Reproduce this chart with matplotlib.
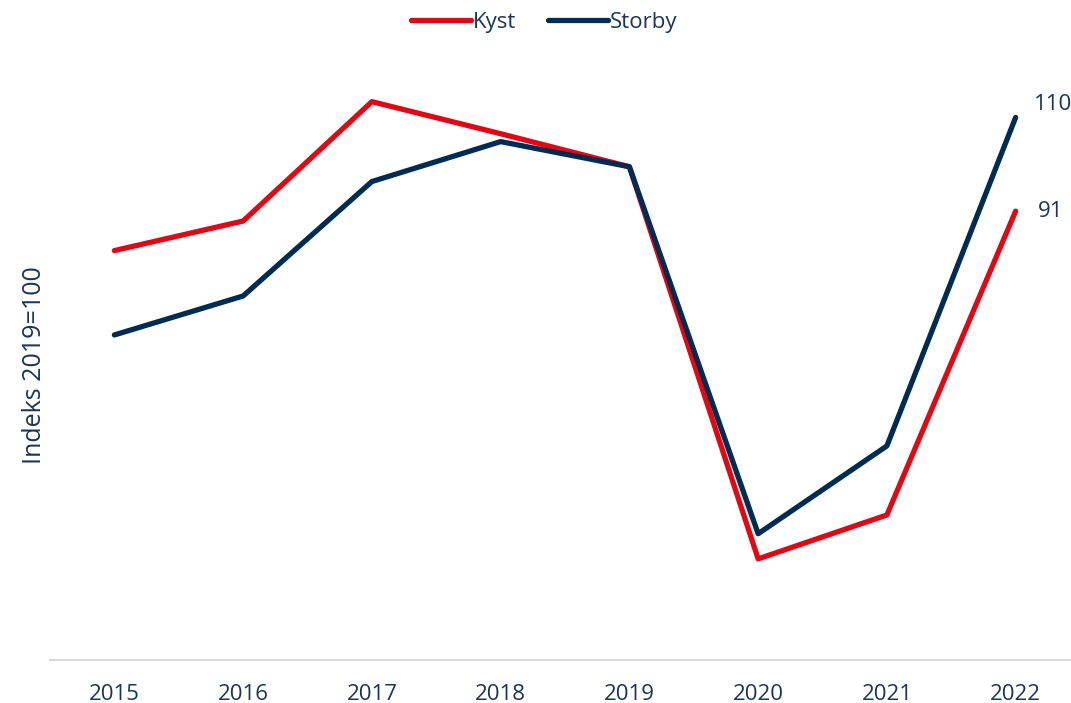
import matplotlib.pyplot as plt

years = ['2015', '2016', '2017', '2018', '2019', '2020', '2021', '2022']
kyst = [83.0, 89.0, 113.2, 106.7, 100.0, 20.5, 29.4, 91.0]
storby = [65.9, 73.8, 97.0, 105.1, 100.0, 25.6, 43.4, 110.0]

red = '#e30613'
navy = '#002b52'
text_col = '#1b3558'

plt.rcParams['font.family'] = ['Open Sans', 'DejaVu Sans']

fig = plt.figure(figsize=(10.71, 7.03), dpi=100)
ax = fig.add_axes([0.0467, 0.0612, 0.9533, 0.877])

x = list(range(len(years)))
ax.plot(x, kyst, color=red, lw=3.8, solid_capstyle='round', label='Kyst')
ax.plot(x, storby, color=navy, lw=3.8, solid_capstyle='round', label='Storby')

# end labels
ax.text(7.145, storby[-1] + 2.6, f'{storby[-1]:.0f}', color=text_col, fontsize=16,
        ha='left', va='center')
ax.text(7.17, kyst[-1], f'{kyst[-1]:.0f}', color=text_col, fontsize=16,
        ha='left', va='center')

ax.set_xlim(-0.5, 7.43)
ax.set_ylim(0, 125)
ax.set_xticks(x)
ax.set_xticklabels(years, fontsize=16, color=text_col)
ax.tick_params(axis='x', length=0, pad=17)
ax.set_yticks([])
ax.set_ylabel('Indeks 2019=100', fontsize=18, color=text_col)
ax.yaxis.set_label_coords(-0.003, 0.479)

for s in ['top', 'right', 'left']:
    ax.spines[s].set_visible(False)
ax.spines['bottom'].set_color('#d9d9d9')
ax.spines['bottom'].set_linewidth(1.5)

fig.legend(loc='upper center', bbox_to_anchor=(0.508, 1.012), ncol=2, frameon=False,
           fontsize=16, labelcolor=text_col, handlelength=2.7, handletextpad=0.1,
           columnspacing=1.4)

fig.savefig('out.png', dpi=100)
